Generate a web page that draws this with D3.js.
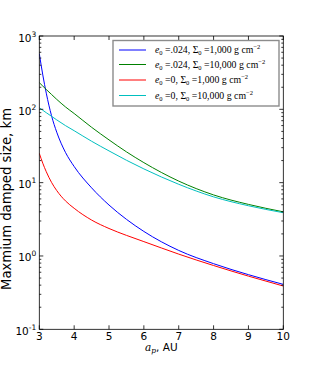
<!DOCTYPE html>
<html>
<head>
<meta charset="utf-8">
<script src="https://cdn.jsdelivr.net/npm/d3@7"></script>
<style>
  body { margin: 0; background: #fff; }
  svg { display: block; }
</style>
</head>
<body>
<div class="chart"></div>
<script>
// planet semimajor axis, AU
const apAU = [3, 3.1, 3.2, 3.35, 3.5, 3.75, 4, 4.5, 5, 5.5, 6, 7, 8, 9, 10];

// maximum damped size, km
const ecc024Sigma1000  = [575, 295, 166, 82, 48.8, 25.9, 16.6, 8.5, 4.95, 3.16, 2.16, 1.19, 0.785, 0.556, 0.41];
const ecc024Sigma10000 = [231, 207.5, 186.6, 159.6, 136.8, 107.9, 87.7, 56.9, 38.3, 26.3, 18.75, 10.5, 6.8, 5.05, 4.0];
const ecc0Sigma1000    = [25.1, 18.4, 14.1, 10.1, 7.8, 5.64, 4.47, 3.09, 2.37, 1.91, 1.57, 1.06, 0.741, 0.531, 0.389];
const ecc0Sigma10000   = [105.2, 97.1, 89.9, 80.4, 71.8, 60.0, 51.1, 36.7, 27.1, 20.2, 15.4, 9.5, 6.4, 4.84, 3.89];

const xTicks = [3, 4, 5, 6, 7, 8, 9, 10];
const yExponents = [-1, 0, 1, 2, 3];

const seriesNames = [
  { e: ".024", s: "1,000" },
  { e: ".024", s: "10,000" },
  { e: "0", s: "1,000" },
  { e: "0", s: "10,000" }
];
const seriesColors = ["#0000ff", "#008000", "#ff0000", "#00bfbf"];

const W = 315, H = 366;
const margin = { left: 39.3, top: 36, right: 315 - 283.3, bottom: 366 - 329.3 };

const svg = d3.select(".chart").append("svg")
  .attr("width", W).attr("height", H)
  .style("font-family", "'DejaVu Sans', sans-serif");

const x = d3.scaleLinear().domain([3, 10]).range([margin.left, W - margin.right]);
const y = d3.scaleLog().domain([0.1, 1000]).range([H - margin.bottom, margin.top]);

const x0 = x.range()[0], x1 = x.range()[1];
const y0 = y.range()[0], y1 = y.range()[1];

// curves
const allSeries = [ecc024Sigma1000, ecc024Sigma10000, ecc0Sigma1000, ecc0Sigma10000];
const line = d3.line()
  .x((d, i) => x(apAU[i]))
  .y(d => y(d))
  .curve(d3.curveMonotoneX);

svg.append("clipPath").attr("id", "clip")
  .append("rect").attr("x", x0).attr("y", y1).attr("width", x1 - x0).attr("height", y0 - y1);

const plot = svg.append("g").attr("clip-path", "url(#clip)");
allSeries.forEach((s, i) => {
  plot.append("path")
    .attr("d", line(s))
    .attr("fill", "none")
    .attr("stroke", seriesColors[i])
    .attr("stroke-width", 1);
});

// ticks (inward, on all sides)
const tk = svg.append("g").attr("stroke", "#000").attr("stroke-width", 0.8);
xTicks.forEach(t => {
  const px = x(t);
  tk.append("line").attr("x1", px).attr("x2", px).attr("y1", y0).attr("y2", y0 - 4);
  tk.append("line").attr("x1", px).attr("x2", px).attr("y1", y1).attr("y2", y1 + 4);
});
yExponents.forEach(e => {
  const py = y(Math.pow(10, e));
  tk.append("line").attr("x1", x0).attr("x2", x0 + 4).attr("y1", py).attr("y2", py);
  tk.append("line").attr("x1", x1).attr("x2", x1 - 4).attr("y1", py).attr("y2", py);
  if (e < 3) {
    for (let m = 2; m < 10; m++) {
      const pm = y(m * Math.pow(10, e));
      tk.append("line").attr("x1", x0).attr("x2", x0 + 2).attr("y1", pm).attr("y2", pm);
      tk.append("line").attr("x1", x1).attr("x2", x1 - 2).attr("y1", pm).attr("y2", pm);
    }
  }
});

// frame
svg.append("rect")
  .attr("x", x0).attr("y", y1).attr("width", x1 - x0).attr("height", y0 - y1)
  .attr("fill", "none").attr("stroke", "#000").attr("stroke-width", 0.8);

// tick labels
xTicks.forEach(t => {
  svg.append("text")
    .attr("x", x(t)).attr("y", y0 + 10.5)
    .attr("text-anchor", "middle")
    .attr("font-size", 10.5)
    .text(t);
});
yExponents.forEach(e => {
  const tx = svg.append("text")
    .attr("x", x0 - 3).attr("y", y(Math.pow(10, e)) + 5.5)
    .attr("text-anchor", "end")
    .attr("font-size", 10.5);
  tx.append("tspan").text("10");
  tx.append("tspan").attr("dy", -5).attr("font-size", 7.5).text(e < 0 ? "-" + (-e) : e);
});

// axis labels
svg.append("text")
  .attr("transform", "translate(10.5,199) rotate(-90)")
  .attr("text-anchor", "middle")
  .attr("font-size", 13.2)
  .text("Maxmium damped size, km");

const xl = svg.append("text")
  .attr("x", (x0 + x1) / 2).attr("y", 351)
  .attr("text-anchor", "middle")
  .attr("font-size", 10.5);
xl.append("tspan").attr("font-family", "'DejaVu Serif', serif").attr("font-style", "italic").text("a");
xl.append("tspan").attr("font-family", "'DejaVu Serif', serif").attr("font-style", "italic")
  .attr("font-size", 7.5).attr("dy", 2).text("p");
xl.append("tspan").attr("dy", -2).text(", AU");

// legend
const lg = svg.append("g");
lg.append("rect")
  .attr("x", 113).attr("y", 40.5).attr("width", 166).attr("height", 65.5)
  .attr("fill", "#fff").attr("stroke", "#8c8c8c").attr("stroke-width", 1.4);

const rowY = [50, 64.5, 80, 95.5];
seriesNames.forEach((n, i) => {
  lg.append("line")
    .attr("x1", 119).attr("x2", 146)
    .attr("y1", rowY[i]).attr("y2", rowY[i])
    .attr("stroke", seriesColors[i]).attr("stroke-width", 1);
  const t = lg.append("text")
    .attr("x", 155).attr("y", rowY[i] + 3)
    .attr("font-family", "'Liberation Serif', 'DejaVu Serif', serif")
    .attr("font-size", 9.8);
  t.append("tspan").attr("font-style", "italic").text("e");
  t.append("tspan").attr("font-size", 6.5).attr("dy", 2).text("0");
  t.append("tspan").attr("dy", -2).text(" =" + n.e + ", Σ");
  t.append("tspan").attr("font-size", 6.5).attr("dy", 2).text("0");
  t.append("tspan").attr("dy", -2).text(" =" + n.s + " g cm");
  t.append("tspan").attr("font-size", 6.5).attr("dy", -4).text("−2");
});
</script>
</body>
</html>
